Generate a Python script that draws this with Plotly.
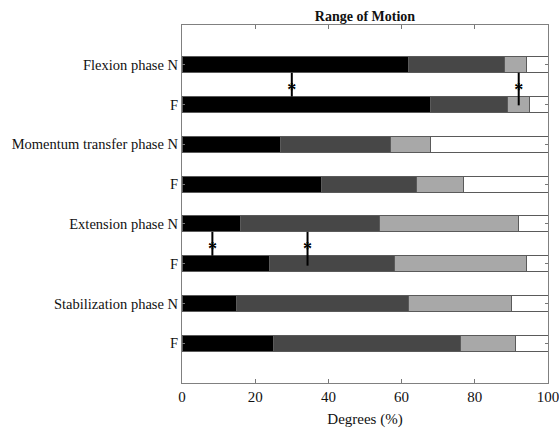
import plotly.graph_objects as go

# ---- data ----
row_labels = ["Flexion phase N", "F", "Momentum transfer phase N", "F",
              "Extension phase N", "F", "Stabilization phase N", "F"]
row_pos = [1, 2, 3, 4, 5, 6, 7, 8]
seg1 = [62, 68, 27, 38, 16, 24, 15, 25]   # black
seg2 = [26, 21, 30, 26, 38, 34, 47, 51]   # dark gray
seg3 = [6, 6, 11, 13, 38, 36, 28, 15]     # light gray
seg4 = [6, 5, 32, 23, 8, 6, 10, 9]        # white
x_ticks = [0, 20, 40, 60, 80, 100]

# significance markers: x position, top and bottom (in row units)
sig_x = [30, 92, 8.3, 34.3]
sig_top = [1.2, 1.2, 5.2, 5.2]
sig_bottom = [1.8, 2.02, 5.8, 6.05]
sig_star_y = [1.68, 1.68, 5.68, 5.68]

colors = ["#000000", "#474747", "#a8a8a8", "#ffffff"]
serif = "Liberation Serif, Times New Roman, serif"

fig = go.Figure()
for seg, c in zip([seg1, seg2, seg3, seg4], colors):
    fig.add_trace(go.Bar(
        x=seg, y=row_pos, orientation="h", width=0.4,
        marker=dict(color=c, line=dict(color="#5a5a5a", width=1)),
        showlegend=False, hoverinfo="skip"))

for sx, t, b in zip(sig_x, sig_top, sig_bottom):
    fig.add_trace(go.Scatter(x=[sx, sx], y=[t, b], mode="lines",
                             line=dict(color="#000000", width=2),
                             showlegend=False, hoverinfo="skip"))
fig.add_trace(go.Scatter(x=sig_x, y=sig_star_y, mode="text",
                         text=["<b>*</b>"] * len(sig_x),
                         textposition="middle center",
                         textfont=dict(family=serif, size=18, color="#000000"),
                         showlegend=False, hoverinfo="skip"))

fig.update_layout(
    barmode="stack",
    width=559, height=429,
    margin=dict(l=182, r=11, t=25, b=46),
    paper_bgcolor="white", plot_bgcolor="white",
    font=dict(family=serif, size=14.5, color="#111111"),
    title=dict(text="<b>Range of Motion</b>", x=0.5, xref="paper", xanchor="center",
               y=1 - 16 / 429, yanchor="middle", yref="container",
               font=dict(family=serif, size=14, color="#111111")),
    xaxis=dict(range=[0, 100], tickvals=x_ticks, ticks="inside", ticklen=4,
               tickcolor="#777777", showline=True, linecolor="#808080", linewidth=1.2,
               mirror="ticks", showgrid=False, zeroline=False, automargin=False,
               ticklabeloverflow="allow",
               title=dict(text="Degrees (%)", font=dict(family=serif, size=15), standoff=9),
               tickfont=dict(family=serif, size=15)),
    yaxis=dict(range=[9, 0], tickvals=row_pos, ticktext=row_labels, ticks="inside",
               ticklen=3, tickcolor="#777777", showline=True, linecolor="#808080",
               linewidth=1.2, mirror="ticks", showgrid=False, zeroline=False,
               automargin=False, tickfont=dict(family=serif, size=14.5)),
)

fig.write_html("out.html", config={"displayModeBar": False},
               post_script="document.body.style.margin='0';document.body.style.overflow='hidden';")
